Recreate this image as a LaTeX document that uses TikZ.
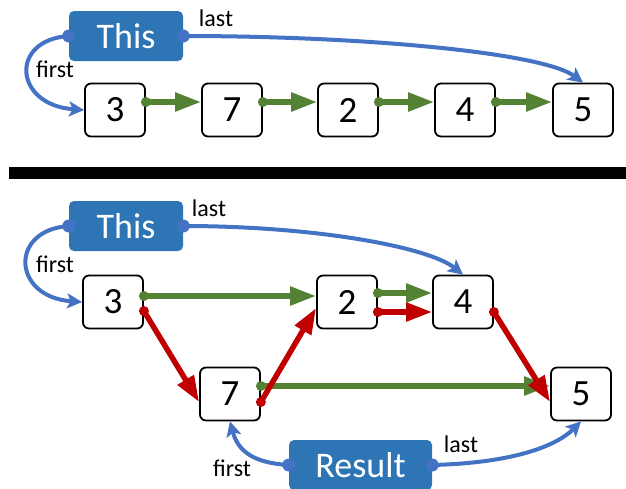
\documentclass[tikz,border=0pt]{standalone}
\usepackage{fontspec}
\setmainfont{Carlito}
\usetikzlibrary{arrows.meta,calc}
\definecolor{boxblue}{HTML}{2E75B6}
\definecolor{linkblue}{HTML}{4472C4}
\definecolor{ptrgreen}{HTML}{548235}
\definecolor{ptrred}{HTML}{C00000}
\begin{document}
\begin{tikzpicture}[x=1pt,y=-1pt,
  item/.style={draw=black, line width=1.8pt, rounded corners=6pt, fill=white,
    minimum width=60pt, minimum height=53pt, inner sep=0pt,
    font=\fontsize{37}{40}\selectfont},
  holder/.style={fill=boxblue, rounded corners=5pt, text=white,
    minimum height=50pt, inner sep=0pt, font=\fontsize{36}{40}\selectfont},
  lbl/.style={font=\fontsize{24}{28}\selectfont, inner sep=0pt},
  gptr/.style={draw=ptrgreen, line width=5.5pt, -{Triangle[length=26pt,width=18pt]}},
  rptr/.style={draw=ptrred, line width=5.5pt, -{Triangle[length=26pt,width=18pt]}},
  bptr/.style={draw=linkblue, line width=4pt, -{Stealth[length=15pt,width=15pt,inset=3.5pt]}},
  gdot/.style={fill=ptrgreen},
  rdot/.style={fill=ptrred},
  bdot/.style={fill=linkblue}
]
\clip (0,0) rectangle (626,488);
\useasboundingbox (0,0) rectangle (626,488);

% ---------- top part ----------
\node[holder, minimum width=114pt] (thisA) at (126,36) {This};
\node[item] (a3) at (115,110) {3};
\node[item] (a7) at (232,110) {7};
\node[item] (a2) at (348,110) {2};
\node[item] (a4) at (465,110) {4};
\node[item] (a5) at (583,110) {5};

\foreach \s/\t in {a3/a7, a7/a2, a2/a4, a4/a5}{
  \draw[gptr] ([yshift=8pt]\s.east) -- ([yshift=8pt]\t.west);
  \fill[gdot] ([yshift=8pt]\s.east) circle (5pt);
}

\draw[bptr] (thisA.west) .. controls +(-60,4) and +(-70,-5) .. (a3.west);
\draw[bptr] (thisA.east) .. controls +(180,0) and +(-40,-30) .. (a5.north);
\fill[bdot] (thisA.west) circle (6.5pt);
\fill[bdot] (thisA.east) circle (6.5pt);
\node[lbl] (lastA) at (216,18) {last};
\node[lbl] (firstA) at (55,69) {first};

% ---------- separator ----------
\fill (9,167) rectangle (626,179);

% ---------- bottom part ----------
\node[holder, minimum width=114pt] (thisB) at (126,226) {This};
\node[item] (b3) at (113,302) {3};
\node[item] (b2) at (347,302) {2};
\node[item] (b4) at (463,302) {4};
\node[item] (b7) at (230,394) {7};
\node[item] (b5) at (581,394) {5};
\node[holder, minimum width=143pt] (res) at (360.5,465) {Result};

% green (next) pointers
\draw[gptr] ([yshift=6pt]b3.east) -- ([yshift=6pt]b2.west);
\draw[gptr] ([yshift=9pt]b2.east) -- ([yshift=9pt]b4.west);
\draw[gptr] ([yshift=8pt]b7.east) -- ([yshift=8pt]b5.west);
% red (sorted) pointers
\draw[rptr] ([yshift=-9pt]b3.east) -- ([yshift=-8pt]b7.west);
\draw[rptr] ([yshift=-8pt]b7.east) -- ([yshift=-6pt]b2.west);
\draw[rptr] ([yshift=-10pt]b2.east) -- ([yshift=-10pt]b4.west);
\draw[rptr] ([yshift=-10pt]b4.east) -- ([yshift=-8pt]b5.west);

\fill[gdot] ([yshift=6pt]b3.east) circle (5pt);
\fill[gdot] ([yshift=9pt]b2.east) circle (5pt);
\fill[gdot] ([yshift=8pt]b7.east) circle (5pt);
\fill[rdot] ([yshift=-9pt]b3.east) circle (5pt);
\fill[rdot] ([yshift=-8pt]b7.east) circle (5pt);
\fill[rdot] ([yshift=-10pt]b2.east) circle (5pt);
\fill[rdot] ([yshift=-10pt]b4.east) circle (5pt);

% blue links
\draw[bptr] (thisB.west) .. controls +(-60,4) and +(-70,-5) .. (b3.west);
\draw[bptr] (thisB.east) .. controls +(130,0) and +(-35,-28) .. (b4.north);
\draw[bptr] (res.west) .. controls +(-35,-2) and +(8,30) .. (b7.south);
\draw[bptr] (res.east) .. controls +(80,-2) and +(-25,25) .. (b5.south);
\fill[bdot] (thisB.west) circle (6.5pt);
\fill[bdot] (thisB.east) circle (6.5pt);
\fill[bdot] (res.west) circle (6.5pt);
\fill[bdot] (res.east) circle (6.5pt);

\node[lbl] (lastB) at (209,208) {last};
\node[lbl] (firstB) at (55,264) {first};
\node[lbl] (firstR) at (232,468) {first};
\node[lbl] (lastR) at (461,444) {last};
\end{tikzpicture}
\end{document}
